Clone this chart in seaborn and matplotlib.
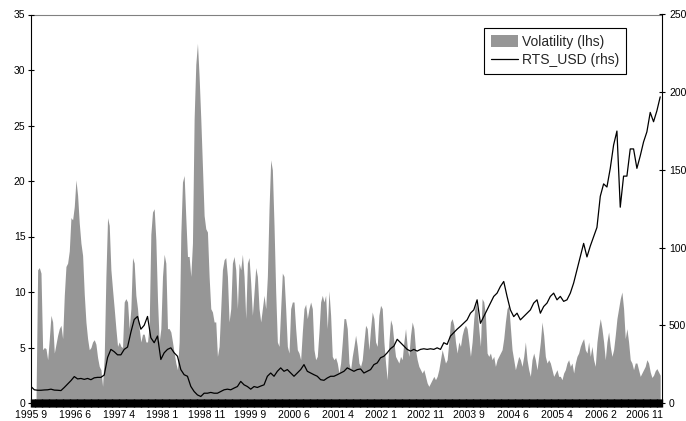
import numpy as np
import pandas as pd
import matplotlib
matplotlib.use("Agg")
import matplotlib.pyplot as plt
from matplotlib.ticker import MultipleLocator, FixedLocator
from matplotlib.patches import Patch
from matplotlib.lines import Line2D
import seaborn as sns

sns.set_style("white")
plt.rcParams['font.family'] = ['Liberation Sans', 'DejaVu Sans']

# observation spacing of the sampled series (trading days)
vol_step = 7.6
rts_step = 15.2
n_obs = 2881

# x-axis category labels, one every 200 observations
tick_pos = [0, 200, 400, 600, 800, 1000, 1200, 1400, 1600, 1800, 2000, 2200, 2400, 2600, 2800]
tick_labels = ["1995 9", "1996 6", "1997 4", "1998 1", "1998 11", "1999 9", "2000 6", "2001 4",
               "2002 1", "2002 11", "2003 9", "2004 6", "2005 4", "2006 2", "2006 11"]

# Volatility (lhs)
volatility = [
    0, 0, 0, 0, 12.0, 12.2, 11.7, 4.8, 5.0, 4.9, 3.9, 5.8, 7.9, 7.3, 4.5, 5.3, 6.1, 6.7,
    7.0, 5.8, 9.7, 12.3, 12.6, 13.7, 16.7, 16.5, 17.7, 20.1, 18.7, 16.2, 14.4, 13.3, 9.8, 7.3, 5.8, 4.8,
    5.0, 5.5, 5.7, 5.3, 4.1, 3.3, 3.0, 1.5, 4.2, 11.4, 16.7, 16.0, 12.0, 10.2, 8.5, 6.7, 5.1, 5.5,
    5.1, 5.0, 9.1, 9.4, 9.1, 6.7, 8.5, 13.1, 12.6, 9.7, 8.5, 6.7, 5.5, 6.2, 6.2, 5.5, 5.5, 7.0,
    15.2, 17.2, 17.5, 14.7, 9.3, 5.5, 6.7, 11.4, 13.4, 12.6, 6.7, 6.7, 6.4, 5.5, 4.5, 3.6, 3.0, 5.5,
    15.2, 19.9, 20.5, 16.7, 13.2, 13.2, 11.4, 14.4, 25.6, 30.5, 32.4, 29.4, 25.6, 21.3, 16.9, 15.7, 15.4, 11.4,
    8.5, 8.2, 7.3, 7.3, 4.2, 5.1, 8.5, 12.0, 12.9, 13.1, 11.4, 7.3, 8.5, 12.6, 13.2, 12.0, 8.5, 12.6,
    12.0, 13.4, 11.4, 7.6, 12.6, 13.1, 10.8, 7.9, 10.0, 12.2, 11.4, 8.5, 7.3, 8.5, 9.7, 8.5, 11.4, 17.5,
    21.9, 21.0, 16.0, 10.0, 5.5, 5.1, 8.5, 11.7, 11.4, 8.5, 5.1, 4.5, 8.5, 9.1, 9.1, 6.7, 4.8, 4.5,
    3.9, 6.4, 8.5, 8.9, 7.6, 8.5, 9.1, 8.5, 4.8, 3.9, 4.2, 6.4, 9.1, 9.7, 9.1, 9.7, 6.7, 10.1,
    7.9, 4.2, 3.9, 4.1, 3.6, 2.7, 3.6, 5.5, 7.6, 7.6, 6.7, 3.6, 3.0, 4.2, 5.1, 6.1, 5.1, 3.6,
    3.3, 3.9, 5.5, 7.0, 6.7, 4.8, 6.7, 8.2, 7.6, 5.5, 5.1, 7.9, 8.8, 8.5, 5.5, 3.6, 2.1, 5.5,
    7.5, 7.0, 5.5, 4.2, 3.9, 3.6, 4.2, 3.9, 5.5, 6.7, 5.1, 4.2, 6.1, 7.3, 6.7, 4.8, 3.9, 3.3,
    3.0, 2.7, 3.0, 2.4, 1.8, 1.5, 1.8, 2.1, 2.4, 2.1, 2.4, 3.0, 3.9, 4.8, 4.2, 3.6, 3.9, 5.5,
    7.3, 7.6, 7.0, 5.5, 4.5, 5.5, 5.1, 6.1, 6.7, 7.0, 6.7, 5.5, 4.2, 5.5, 7.6, 9.1, 8.5, 6.7,
    5.1, 9.4, 9.1, 7.9, 4.5, 4.2, 4.5, 3.9, 4.2, 3.3, 3.9, 4.2, 4.5, 4.8, 5.8, 7.3, 8.5, 8.8,
    6.8, 4.8, 3.9, 3.0, 3.6, 4.2, 3.9, 3.3, 4.2, 5.5, 3.9, 3.0, 2.4, 3.9, 4.5, 3.9, 3.0, 4.2,
    5.5, 7.3, 6.1, 4.2, 3.6, 3.9, 3.6, 3.0, 2.4, 2.7, 3.0, 2.4, 2.4, 2.1, 2.7, 3.0, 3.6, 3.9,
    3.3, 3.6, 2.7, 3.6, 4.2, 4.5, 5.1, 5.5, 5.8, 4.8, 4.5, 5.5, 4.2, 5.1, 3.9, 3.3, 5.5, 6.7,
    7.6, 6.7, 5.5, 3.9, 5.5, 6.4, 5.1, 4.2, 4.8, 6.1, 7.6, 8.5, 9.4, 10.0, 8.5, 5.8, 6.7, 5.5,
    3.9, 3.6, 3.0, 3.6, 3.6, 3.0, 2.4, 2.7, 3.0, 3.3, 3.9, 3.6, 2.8, 2.3, 2.5, 2.9, 3.1, 2.8,
    2.5,
]

# RTS_USD index (rhs)
rts_usd = [
    106, 85, 82, 82, 84, 85, 89, 83, 82, 80, 100, 122, 144, 170, 155, 158, 152, 158,
    150, 162, 165, 165, 180, 293, 345, 330, 310, 310, 345, 360, 455, 537, 557, 475, 500, 557,
    420, 388, 431, 280, 323, 345, 355, 323, 301, 215, 182, 172, 107, 74, 52, 42, 63, 63,
    68, 63, 63, 74, 85, 89, 85, 96, 106, 139, 117, 106, 89, 106, 100, 109, 117, 172,
    193, 172, 204, 226, 204, 215, 193, 172, 193, 215, 247, 204, 193, 182, 172, 150, 146, 161,
    172, 172, 182, 193, 204, 226, 215, 204, 215, 219, 193, 204, 215, 247, 258, 291, 301, 323,
    350, 366, 410, 388, 366, 345, 334, 345, 334, 345, 349, 345, 349, 345, 355, 345, 388, 377,
    431, 453, 475, 494, 515, 535, 578, 599, 664, 513, 556, 599, 643, 686, 707, 750, 782, 686,
    599, 556, 578, 535, 556, 578, 599, 643, 664, 578, 621, 643, 686, 707, 664, 686, 654, 664,
    707, 772, 857, 944, 1027, 940, 1010, 1070, 1130, 1330, 1410, 1390, 1510, 1660, 1750, 1260, 1460, 1460,
    1635, 1635, 1510, 1590, 1680, 1745, 1870, 1810, 1880, 1970,
]

df_vol = pd.DataFrame({'obs': np.arange(len(volatility)) * vol_step, 'vol': volatility})
df_rts = pd.DataFrame({'obs': np.arange(len(rts_usd)) * rts_step, 'rts': rts_usd})

fig = plt.figure(figsize=(6.86, 4.21), dpi=100)
ax = fig.add_axes([31 / 686, 18 / 421, 631 / 686, 388.5 / 421])
ax.set_axisbelow(False)  # seaborn style puts ticks under the area otherwise

# volatility as grey area on the left axis
ax.fill_between(df_vol['obs'], df_vol['vol'], color='#969696', lw=0)
ax.set_xlim(0, n_obs)
ax.set_ylim(0, 35)
ax.yaxis.set_major_locator(MultipleLocator(5))
ax.xaxis.set_major_locator(FixedLocator(tick_pos))
ax.set_xticklabels(tick_labels)
ax.xaxis.set_minor_locator(MultipleLocator(4))

# RTS on the right axis
ax2 = ax.twinx()
sns.lineplot(data=df_rts, x='obs', y='rts', ax=ax2, color='black', lw=0.9)
ax2.set_xlim(0, n_obs)
ax2.set_ylim(0, 2500)
ax2.yaxis.set_major_locator(MultipleLocator(500))
ax2.set_xlabel('')
ax2.set_ylabel('')
ax.set_xlabel('')
ax.set_ylabel('')

for s in ['left', 'bottom']:
    ax.spines[s].set_color('black')
    ax.spines[s].set_linewidth(0.8)
ax.spines['top'].set_color('#808080')
ax.spines['top'].set_linewidth(0.8)
ax.spines['right'].set_visible(False)
for s in ['left', 'bottom', 'top']:
    ax2.spines[s].set_visible(False)
ax2.spines['right'].set_color('black')
ax2.spines['right'].set_linewidth(0.8)

ax.tick_params(axis='y', left=True, direction='inout', length=4, width=0.8,
               labelsize=7.5, pad=2, colors='black')
ax.tick_params(axis='x', which='both', bottom=True, direction='inout', length=5.5,
               width=1.0, labelsize=7.5, pad=2.5, colors='black')
ax2.tick_params(axis='y', right=True, direction='inout', length=4, width=0.8,
                labelsize=7.5, pad=3, colors='black')

handles = [Patch(facecolor='#969696', edgecolor='none', label='Volatility (lhs)'),
           Line2D([], [], color='black', lw=0.9, label='RTS_USD (rhs)')]
leg = ax2.legend(handles=handles, loc='upper right', bbox_to_anchor=(0.9429, 0.9645),
                 borderaxespad=0, frameon=True, fancybox=False, edgecolor='black',
                 framealpha=1, fontsize=10, handlelength=2.0, handleheight=0.9,
                 borderpad=0.45, labelspacing=0.35, handletextpad=0.3)
leg.get_frame().set_linewidth(0.8)

fig.savefig('out.png', dpi=100)
